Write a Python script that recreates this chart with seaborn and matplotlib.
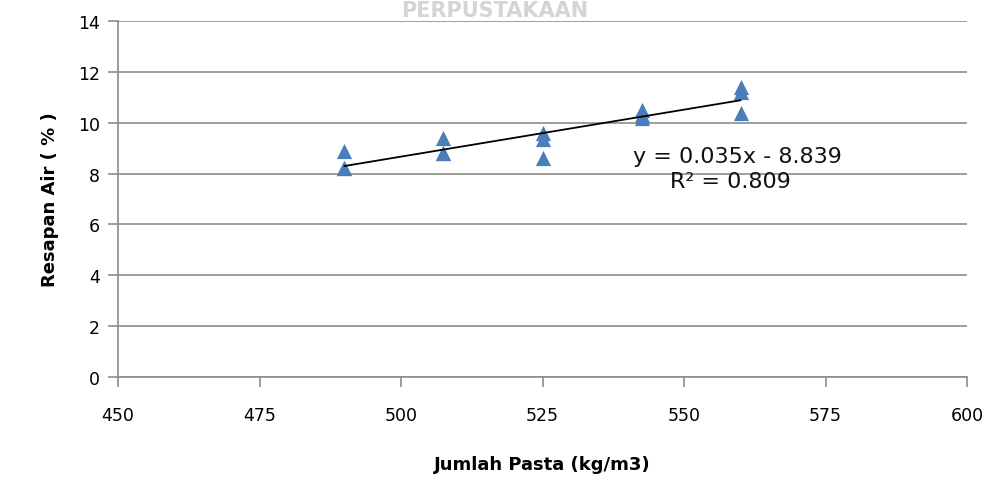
import numpy as np
import pandas as pd
import matplotlib
matplotlib.use("Agg")
import matplotlib.pyplot as plt
import seaborn as sns

# Data
jumlah_pasta = [490, 490, 490, 507.5, 507.5, 507.5, 525, 525, 525,
                542.5, 542.5, 542.5, 560, 560, 560]
resapan_air = [8.2, 8.2, 8.9, 9.4, 8.8, 8.8, 9.6, 9.35, 8.6,
               10.5, 10.3, 10.2, 11.4, 11.2, 10.4]
x_ticks = [450, 475, 500, 525, 550, 575, 600]
y_ticks = [0, 2, 4, 6, 8, 10, 12, 14]
equation_text = "y = 0.035x - 8.839"
r2_text = "R² = 0.809"

df = pd.DataFrame({"Jumlah Pasta": jumlah_pasta, "Resapan Air": resapan_air})

sns.set_theme(style="white")
plt.rcParams['font.family'] = ['DejaVu Sans']

fig = plt.figure(figsize=(9.9, 4.81), dpi=100)
ax = fig.add_axes([0.1192, 0.2141, 0.8576, 0.7402])

# watermark
fig.text(0.5, 0.997, "PERPUSTAKAAN", ha="center", va="top", fontsize=15,
         fontweight="bold", color="#d4d4d4", zorder=0)

ax.grid(axis="y", color="#8c8c8c", linewidth=1.2)
ax.set_axisbelow(True)

sns.regplot(data=df, x="Jumlah Pasta", y="Resapan Air", ax=ax, ci=None,
            truncate=True, marker="^",
            scatter_kws=dict(s=120, color="#4a7ebb", alpha=1, linewidths=0, zorder=3),
            line_kws=dict(color="black", linewidth=1.3, zorder=4))

ax.set_xlim(450, 600)
ax.set_ylim(0, 14)
ax.set_xticks(x_ticks)
ax.set_yticks(y_ticks)
ax.set_xticklabels([str(t) for t in x_ticks], fontsize=12.5, color="black")
ax.set_yticklabels([str(t) for t in y_ticks], fontsize=12.5, color="black")
ax.tick_params(axis="x", direction="out", length=7, width=1.2, color="#8c8c8c",
               bottom=True, pad=14)
ax.tick_params(axis="y", direction="out", length=7, width=1.2, color="#8c8c8c",
               left=True, pad=6)

for s in ["top", "right"]:
    ax.spines[s].set_visible(False)
for s in ["left", "bottom"]:
    ax.spines[s].set_color("#8c8c8c")
    ax.spines[s].set_linewidth(1.2)

ax.set_xlabel("Jumlah Pasta (kg/m3)", fontsize=13, fontweight="bold", labelpad=22,
              color="black")
ax.set_ylabel("Resapan Air ( % )", fontsize=13, fontweight="bold", labelpad=14,
              color="black")

ax.text(541, 8.69, equation_text, fontsize=16, ha="left", va="center", color="#111111")
ax.text(547.5, 7.71, r2_text, fontsize=16, ha="left", va="center", color="#111111")

fig.savefig("out.png", dpi=100)
